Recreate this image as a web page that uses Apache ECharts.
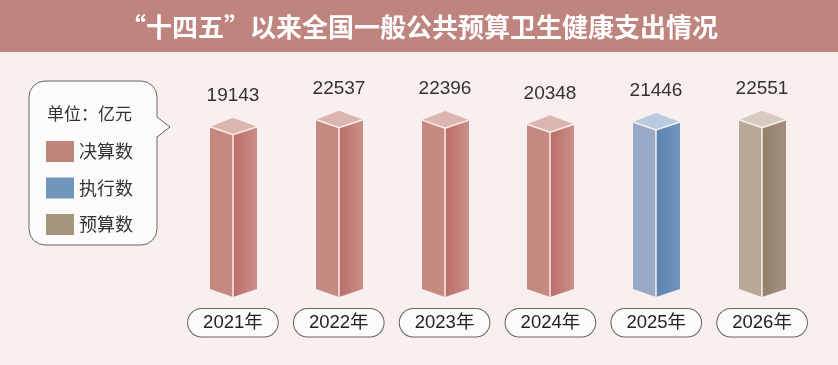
<!DOCTYPE html>
<html>
<head>
<meta charset="utf-8">
<script src="https://cdn.jsdelivr.net/npm/echarts@6/dist/echarts.min.js"></script>
<style>
html,body{margin:0;padding:0;background:#f8efee;}
#chart{width:838px;height:365px;}
</style>
</head>
<body>
<div id="chart"></div>
<script>
var titleText = '“十四五”以来全国一般公共预算卫生健康支出情况';
var unitText = '单位：亿元';
var categories = ['2021年', '2022年', '2023年', '2024年', '2025年', '2026年'];
var values = [19143, 22537, 22396, 20348, 21446, 22551];
var seriesNames = ['决算数', '执行数', '预算数'];
// which series each category belongs to (index into seriesNames)
var seriesOfCategory = [0, 0, 0, 0, 1, 2];

var palette = [
  {legend: '#c0857d', left: '#c58980', right0: '#bb6d67', right1: '#c99089', top: '#dbb6b0'},
  {legend: '#7096be', left: '#98aac5', right0: '#5b84b0', right1: '#7095bd', top: '#b9cbe0'},
  {legend: '#a8957f', left: '#b9a896', right0: '#93806c', right1: '#a3917e', top: '#d6cbbe'}
];

var Y_MIN = -60000, Y_MAX = 30000;

function makeRender(pIdx) {
  var p = palette[pIdx];
  return function (params, api) {
    var i = api.value(0), v = api.value(1);
    var ft = api.coord([i, v]);
    var fb = api.coord([i, Y_MIN]);
    var cx = Math.round(ft[0]), fy = ft[1], by = fb[1];
    var L = 23, R = 24, d = 8, t = 17;
    return {
      type: 'group',
      children: [
        {type: 'polygon', shape: {points: [[cx - L, fy - d], [cx, fy], [cx, by], [cx - L, by - d]]},
          style: {fill: p.left}},
        {type: 'polygon', shape: {points: [[cx, fy], [cx + R, fy - d], [cx + R, by - d], [cx, by]]},
          style: {fill: new echarts.graphic.LinearGradient(0, 0, 1, 0, [{offset: 0, color: p.right0}, {offset: 1, color: p.right1}])}},
        {type: 'polygon', shape: {points: [[cx, fy - t], [cx + R, fy - d], [cx, fy], [cx - L, fy - d]]},
          style: {fill: p.top}},
        {type: 'polyline', shape: {points: [[cx - L, fy - d], [cx, fy], [cx + R, fy - d]]},
          style: {stroke: 'rgba(255,245,240,0.9)', lineWidth: 1.5, fill: null}},
        {type: 'line', shape: {x1: cx, y1: fy, x2: cx, y2: by},
          style: {stroke: 'rgba(255,245,240,0.95)', lineWidth: 1.5}},
        {type: 'text', x: cx, y: fy - t - 22,
          style: {text: String(v), fill: '#333', font: '19px "Liberation Sans", Arial, sans-serif', align: 'center', verticalAlign: 'middle'}}
      ]
    };
  };
}

var series = seriesNames.map(function (name, s) {
  var data = [];
  for (var i = 0; i < categories.length; i++) {
    if (seriesOfCategory[i] === s) data.push([i, values[i]]);
  }
  return {
    name: name,
    type: 'custom',
    itemStyle: {color: palette[s].legend},
    renderItem: makeRender(s),
    data: data,
    clip: false
  };
});

var chart = echarts.init(document.getElementById('chart'));
chart.setOption({
  backgroundColor: '#f8efee',
  animation: false,
  title: {
    text: titleText,
    left: 'center',
    top: 9,
    textStyle: {color: '#fff', fontSize: 26, fontWeight: 'bold', fontFamily: '"Noto Sans CJK SC", sans-serif'}
  },
  graphic: [
    {type: 'rect', z: -1, shape: {x: 0, y: 0, width: 838, height: 52}, style: {fill: '#c0847f'}},
    {type: 'rect', z: 1, shape: {x: 29, y: 81, width: 128, height: 164, r: 16},
      style: {fill: '#fdfafa', stroke: '#666', lineWidth: 1}},
    {type: 'polygon', z: 1, shape: {points: [[156, 117], [170, 127], [156, 137]]},
      style: {fill: '#fdfafa'}},
    {type: 'polyline', z: 1, shape: {points: [[157, 117], [170, 127], [157, 137]]},
      style: {stroke: '#666', lineWidth: 1, fill: null}},
    {type: 'text', z: 2, left: 47, top: 105,
      style: {text: unitText, fill: '#333', font: '17px "Noto Sans CJK SC", sans-serif'}}
  ],
  legend: {
    orient: 'vertical',
    left: 46,
    top: 141,
    itemWidth: 28,
    itemHeight: 21,
    itemGap: 15.5,
    padding: 0,
    selectedMode: false,
    icon: 'rect',
    z: 5,
    textStyle: {fontSize: 18, color: '#333', fontFamily: '"Noto Sans CJK SC", sans-serif'},
    data: seriesNames
  },
  grid: {left: 180, right: 23, top: 112.5, bottom: 68},
  xAxis: {
    type: 'category',
    data: categories,
    axisLine: {show: false},
    axisTick: {show: false},
    axisLabel: {
      margin: 12,
      fontSize: 18.5,
      color: '#222',
      fontFamily: '"Liberation Sans", "Noto Sans CJK SC", sans-serif',
      backgroundColor: '#fdfafa',
      borderColor: '#666',
      borderWidth: 1,
      borderRadius: 15,
      padding: [5, 15, 4, 15]
    }
  },
  yAxis: {type: 'value', min: Y_MIN, max: Y_MAX, show: false, splitLine: {show: false}},
  series: series
});
</script>
</body>
</html>
